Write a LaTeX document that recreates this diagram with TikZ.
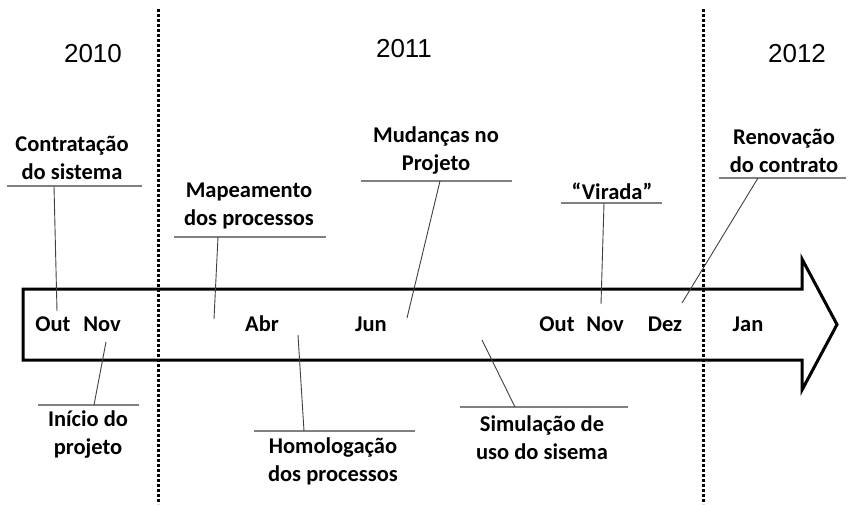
\documentclass[tikz,border=0pt]{standalone}
\usepackage{fontspec}
\setmainfont{Carlito}
\newfontfamily\yearfont{Liberation Sans}
\begin{document}
\begin{tikzpicture}[x=1pt,y=-1pt,
  lbl/.style={font=\fontsize{22.5}{28}\selectfont\bfseries, align=center, anchor=base, inner sep=0pt},
  yr/.style={font=\yearfont\fontsize{26}{30}\selectfont, anchor=base, inner sep=0pt},
  mon/.style={font=\fontsize{22.5}{28}\selectfont\bfseries, anchor=base, inner sep=0pt},
  rulebar/.style={draw=black!50, line width=1.4pt},
  conn/.style={draw=black!75, line width=0.9pt},
  sepline/.style={line width=3pt, dash pattern=on 2.6pt off 2.4pt}]
\useasboundingbox (0,0) rectangle (848,504);

% years
\node[yr] (y2010) at (93,62) {2010};
\node[yr] (y2011) at (404,57) {2011};
\node[yr] (y2012) at (797,62) {2012};

% arrow
\draw[line width=3pt, line join=miter, fill=white]
  (23,289) -- (802,289) -- (802,259) -- (837,324.5) -- (802,390) -- (802,360) -- (23,360) -- cycle;

% year separators
\draw[sepline] (158,9) -- (158,504);
\draw[sepline] (703,9) -- (703,504);

% months
\node[mon] (out1) at (53,331) {Out};
\node[mon] (nov1) at (102,331) {Nov};
\node[mon] (abr) at (262,331) {Abr};
\node[mon] (jun) at (371,331) {Jun};
\node[mon] (out2) at (557,331) {Out};
\node[mon] (nov2) at (605,331) {Nov};
\node[mon] (dez) at (665,331) {Dez};
\node[mon] (jan) at (748,331) {Jan};

% labels above
\node[lbl] (contr) at (72,179) {Contratação\\do sistema};
\draw[rulebar] (7,186) -- (142,186);
\coordinate (contrT) at (54,186);
\coordinate (contrB) at (57,311);
\draw[conn] (contrT) -- (contrB);

\node[lbl] (mapea) at (249,225) {Mapeamento\\dos processos};
\draw[rulebar] (174,237) -- (326,237);
\coordinate (mapeaT) at (218,237);
\coordinate (mapeaB) at (214,319);
\draw[conn] (mapeaT) -- (mapeaB);

\node[lbl] (mudan) at (436,170) {Mudanças no\\Projeto};
\draw[rulebar] (361,181) -- (512,181);
\coordinate (mudanT) at (440,181);
\coordinate (mudanB) at (407,318);
\draw[conn] (mudanT) -- (mudanB);

\node[lbl] (virada) at (612,199) {“Virada”};
\draw[rulebar] (561,203) -- (662,203);
\coordinate (viradaT) at (604,203);
\coordinate (viradaB) at (601,304);
\draw[conn] (viradaT) -- (viradaB);

\node[lbl] (renov) at (784,172) {Renovação\\do contrato};
\draw[rulebar] (719,178) -- (846,178);
\coordinate (renovT) at (758,178);
\coordinate (renovB) at (682,303);
\draw[conn] (renovT) -- (renovB);

% labels below
\node[lbl] (inicio) at (88,454) {Início do\\projeto};
\draw[rulebar] (38,405) -- (139,405);
\coordinate (inicioT) at (106,342);
\coordinate (inicioB) at (94,405);
\draw[conn] (inicioT) -- (inicioB);

\node[lbl] (homol) at (333,481) {Homologação\\dos processos};
\draw[rulebar] (254,431) -- (415,431);
\coordinate (homolT) at (298,335);
\coordinate (homolB) at (304,431);
\draw[conn] (homolT) -- (homolB);

\node[lbl] (simul) at (542,459) {Simulação de\\uso do sisema};
\draw[rulebar] (460,407) -- (628,407);
\coordinate (simulT) at (482,340);
\coordinate (simulB) at (515,407);
\draw[conn] (simulT) -- (simulB);
\end{tikzpicture}
\end{document}
